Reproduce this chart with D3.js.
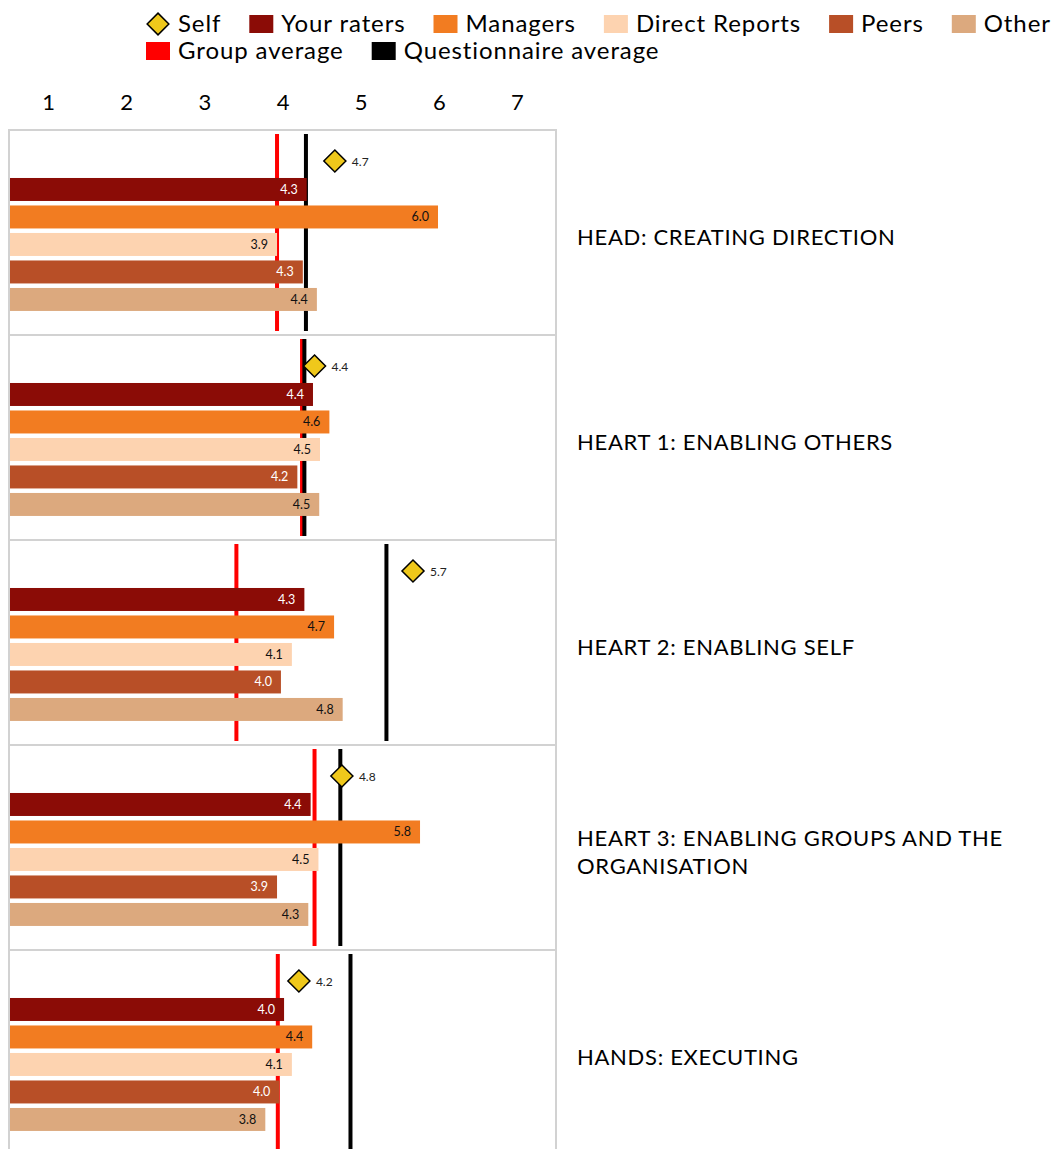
<!DOCTYPE html>
<html>
<head>
<meta charset="utf-8">
<script src="https://cdn.jsdelivr.net/npm/d3@7"></script>
<style>
  body { margin: 0; background: #fff; }
  svg { display: block; font-family: Lato, "Noto Sans", sans-serif; }
</style>
</head>
<body>
<div id="chart"></div>
<script>
// competencies (one panel each)
const categories = [
  "HEAD: CREATING DIRECTION",
  "HEART 1: ENABLING OTHERS",
  "HEART 2: ENABLING SELF",
  "HEART 3: ENABLING GROUPS AND THE ORGANISATION",
  "HANDS: EXECUTING"
];
const selfScores       = [4.67, 4.41, 5.67, 4.76, 4.21];
const yourRaters       = [4.31, 4.39, 4.28, 4.36, 4.02];
const managers         = [5.99, 4.60, 4.66, 5.76, 4.38];
const directReports    = [3.93, 4.48, 4.12, 4.46, 4.12];
const peers            = [4.26, 4.19, 3.98, 3.93, 3.96];
const other            = [4.44, 4.47, 4.77, 4.33, 3.78];
const groupAverage     = [3.93, 4.25, 3.41, 4.41, 3.94];
const questionnaireAvg = [4.30, 4.28, 5.33, 4.74, 4.87];
const tickValues = [1, 2, 3, 4, 5, 6, 7];

const barSeries = [
  {name: "Your raters",    values: yourRaters,    color: "#8b0c06", text: "#fff"},
  {name: "Managers",       values: managers,      color: "#f27c21", text: "#111"},
  {name: "Direct Reports", values: directReports, color: "#fdd3b0", text: "#111"},
  {name: "Peers",          values: peers,         color: "#b84f27", text: "#fff"},
  {name: "Other",          values: other,         color: "#dca97e", text: "#111"}
];
const selfColor = "#efc81b";

const width = 1059, height = 1149;
const plot = {left: 9, right: 556, top: 130, panelH: 205};

const svg = d3.select("#chart").append("svg")
  .attr("width", width)
  .attr("height", height);

const x = d3.scaleLinear().domain([0.5, 7.5]).range([plot.left, plot.right]);

const yPanel = d3.scaleBand()
  .domain(categories)
  .range([plot.top, plot.top + categories.length * plot.panelH]);

const yRow = d3.scaleBand()
  .domain(["Self"].concat(barSeries.map(d => d.name)))
  .range([0, plot.panelH])
  .paddingInner(0.164)
  .paddingOuter(0.81)
  .align(0.46);

// legend
const legendItems = [{name: "Self", type: "diamond", color: selfColor}]
  .concat(barSeries.map(d => ({name: d.name, type: "rect", color: d.color})))
  .concat([{name: "Group average", type: "rect", color: "#ff0000"},
           {name: "Questionnaire average", type: "rect", color: "#000"}]);

const legend = svg.append("g").attr("class", "legend");
let lx = 146, ly = 24;
legendItems.forEach((it, i) => {
  if (i == 6) { lx = 146; ly = 51; }
  const g = legend.append("g").attr("transform", `translate(${lx},${ly})`);
  if (it.type == "diamond") {
    g.append("path")
      .attr("d", d3.symbol(d3.symbolDiamond2, 300)())
      .attr("transform", "translate(12,0)")
      .attr("fill", it.color).attr("stroke", "#000").attr("stroke-width", 1.5);
  } else {
    g.append("rect").attr("x", 0).attr("y", -9).attr("width", 24).attr("height", 18)
      .attr("fill", it.color);
  }
  const t = g.append("text")
    .attr("x", 32).attr("dy", "0.34em")
    .attr("font-size", 24).attr("letter-spacing", 0.9).attr("fill", "#000")
    .text(it.name);
  lx += 32 + t.node().getComputedTextLength() + 28;
});

// top axis
const axis = svg.append("g")
  .attr("transform", "translate(0,110)")
  .call(d3.axisTop(x).tickValues(tickValues).tickSize(0).tickPadding(0).tickFormat(d3.format("d")));
axis.select(".domain").remove();
axis.selectAll("text").attr("font-size", 22).attr("font-family", "Lato, sans-serif").attr("fill", "#000");

// panels
const panels = svg.selectAll(".panel")
  .data(categories)
  .join("g")
  .attr("class", "panel")
  .attr("transform", d => `translate(0,${yPanel(d)})`);

panels.append("rect")
  .attr("x", plot.left).attr("y", 0)
  .attr("width", plot.right - plot.left).attr("height", plot.panelH)
  .attr("fill", "none").attr("stroke", "#d2d2d2").attr("stroke-width", 2);

// reference lines (behind bars)
panels.append("line")
  .attr("x1", (d, i) => x(groupAverage[i])).attr("x2", (d, i) => x(groupAverage[i]))
  .attr("y1", 4).attr("y2", 201)
  .attr("stroke", "#ff0000").attr("stroke-width", 4);
panels.append("line")
  .attr("x1", (d, i) => x(questionnaireAvg[i])).attr("x2", (d, i) => x(questionnaireAvg[i]))
  .attr("y1", 4).attr("y2", 201)
  .attr("stroke", "#000").attr("stroke-width", 4);

// bars
barSeries.forEach(s => {
  panels.append("rect")
    .attr("x", x(0.5) + 1)
    .attr("y", yRow(s.name))
    .attr("width", (d, i) => x(s.values[i]) - x(0.5) - 1)
    .attr("height", yRow.bandwidth())
    .attr("fill", s.color);
  panels.append("text")
    .attr("x", (d, i) => x(s.values[i]) - 9)
    .attr("y", yRow(s.name) + yRow.bandwidth() / 2)
    .attr("dy", "0.36em")
    .attr("text-anchor", "end")
    .attr("font-size", 12.5)
    .attr("fill", s.text)
    .text((d, i) => s.values[i].toFixed(1));
});

// self markers
const selfY = yRow("Self") + yRow.bandwidth() / 2 - 1;
panels.append("path")
  .attr("d", d3.symbol(d3.symbolDiamond2, 310)())
  .attr("transform", (d, i) => `translate(${x(selfScores[i])},${selfY})`)
  .attr("fill", selfColor).attr("stroke", "#000").attr("stroke-width", 1.5);
panels.append("text")
  .attr("x", (d, i) => x(selfScores[i]) + 17)
  .attr("y", selfY + 1)
  .attr("dy", "0.36em")
  .attr("font-size", 12)
  .attr("fill", "#222")
  .text((d, i) => selfScores[i].toFixed(1));

// category labels, wrapped
panels.each(function(d) {
  const g = d3.select(this);
  const t = g.append("text")
    .attr("x", 577)
    .attr("font-size", 22)
    .attr("letter-spacing", 0.7)
    .attr("fill", "#000");
  const words = d.split(" ");
  let lines = [], line = [];
  const probe = t.append("tspan");
  words.forEach(w => {
    probe.text(line.concat(w).join(" "));
    if (probe.node().getComputedTextLength() > 455 && line.length) {
      lines.push(line.join(" "));
      line = [w];
    } else line.push(w);
  });
  lines.push(line.join(" "));
  probe.remove();
  const lh = 28;
  const cy = plot.panelH / 2 + 5 - (lines.length - 1) * lh / 2;
  lines.forEach((l, k) => {
    t.append("tspan").attr("x", 577).attr("y", cy + k * lh).attr("dy", "0.36em").text(l);
  });
});
</script>
</body>
</html>
